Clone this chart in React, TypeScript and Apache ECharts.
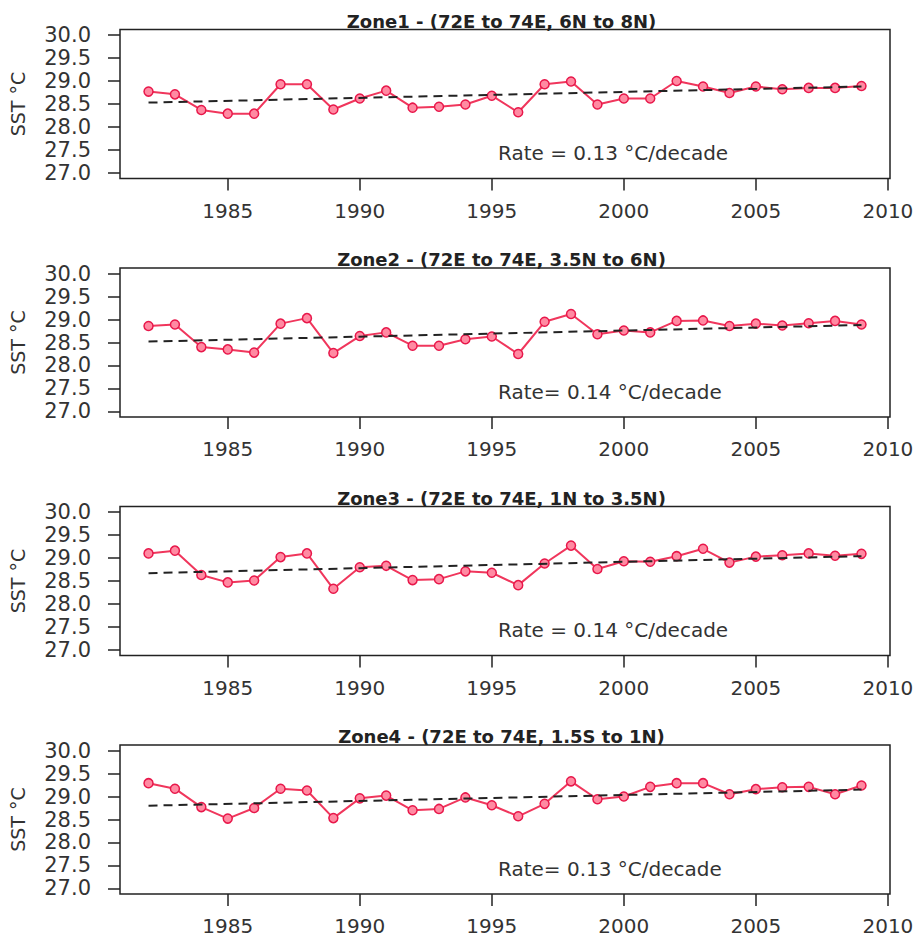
import React, { useEffect, useRef } from "react";
import * as echarts from "echarts";

const years = [1982, 1983, 1984, 1985, 1986, 1987, 1988, 1989, 1990, 1991, 1992, 1993, 1994, 1995, 1996, 1997, 1998, 1999, 2000, 2001, 2002, 2003, 2004, 2005, 2006, 2007, 2008, 2009];

const zone1 = [28.77, 28.71, 28.37, 28.29, 28.29, 28.93, 28.93, 28.38, 28.62, 28.79, 28.42, 28.44, 28.49, 28.68, 28.32, 28.93, 28.99, 28.49, 28.62, 28.62, 29.0, 28.88, 28.74, 28.88, 28.82, 28.85, 28.85, 28.89];
const zone2 = [28.86, 28.89, 28.4, 28.35, 28.28, 28.91, 29.03, 28.27, 28.64, 28.72, 28.43, 28.43, 28.57, 28.63, 28.25, 28.95, 29.12, 28.68, 28.76, 28.72, 28.97, 28.98, 28.86, 28.91, 28.87, 28.92, 28.97, 28.89];
const zone3 = [29.1, 29.16, 28.63, 28.47, 28.51, 29.02, 29.1, 28.33, 28.8, 28.83, 28.52, 28.54, 28.71, 28.68, 28.41, 28.88, 29.27, 28.76, 28.93, 28.92, 29.04, 29.2, 28.9, 29.03, 29.06, 29.1, 29.05, 29.09];
const zone4 = [29.29, 29.17, 28.77, 28.52, 28.75, 29.17, 29.13, 28.53, 28.96, 29.02, 28.7, 28.73, 28.98, 28.81, 28.57, 28.84, 29.33, 28.94, 29.0, 29.21, 29.29, 29.29, 29.05, 29.16, 29.2, 29.21, 29.05, 29.24];

const trendYears = [1982, 2009];
const trend1 = [28.53, 28.88];
const trend2 = [28.52, 28.88];
const trend3 = [28.67, 29.04];
const trend4 = [28.8, 29.15];

const titles = [
  "Zone1 - (72E to 74E, 6N to 8N)",
  "Zone2 - (72E to 74E, 3.5N to 6N)",
  "Zone3 - (72E to 74E, 1N to 3.5N)",
  "Zone4 - (72E to 74E, 1.5S to 1N)",
];
const rates = [
  "Rate = 0.13 °C/decade",
  "Rate= 0.14 °C/decade",
  "Rate = 0.14 °C/decade",
  "Rate= 0.13 °C/decade",
];
const yTicks = [27, 27.5, 28, 28.5, 29, 29.5, 30];
const xTicks = [1985, 1990, 1995, 2000, 2005, 2010];
const yAxisName = "SST °C";

const zones = [zone1, zone2, zone3, zone4];
const trends = [trend1, trend2, trend3, trend4];

export default function App() {
  const ref = useRef<HTMLDivElement>(null);

  useEffect(() => {
    if (!ref.current) return;
    const chart = echarts.init(ref.current, null, { renderer: "svg" });
    const font = "DejaVu Sans";
    const left = 113;
    const width = 777;
    const height = 149;
    const tops = [0, 1, 2, 3].map((i) => 29.5 + 238.5 * i);

    const grids = tops.map((t) => ({
      left,
      top: t,
      width,
      height,
      show: true,
      borderColor: "#222",
      borderWidth: 1.5,
      backgroundColor: "transparent",
      containLabel: false,
    }));

    const xAxes = tops.map((_, i) => ({
      type: "value",
      gridIndex: i,
      min: 1980.92,
      max: 2010.08,
      axisLine: { show: false, onZero: false },
      splitLine: { show: false },
      axisTick: {
        show: true,
        length: 12,
        lineStyle: { color: "#222", width: 1.5 },
        customValues: xTicks,
      },
      axisLabel: {
        show: true,
        customValues: xTicks,
        margin: 22,
        fontFamily: font,
        fontSize: 20,
        color: "#333",
        formatter: (v: number) => String(Math.round(v)),
      },
    }));

    const yAxes = tops.map((_, i) => ({
      type: "value",
      gridIndex: i,
      min: 26.88,
      max: 30.12,
      name: yAxisName,
      nameLocation: "middle",
      nameRotate: 90,
      nameGap: 93,
      nameTextStyle: { fontFamily: font, fontSize: 19, color: "#333" },
      axisLine: { show: false, onZero: false },
      splitLine: { show: false },
      axisTick: {
        show: true,
        length: 12,
        lineStyle: { color: "#222", width: 1.5 },
        customValues: yTicks,
      },
      axisLabel: {
        show: true,
        customValues: yTicks,
        margin: 29,
        fontFamily: font,
        fontSize: 21,
        color: "#333",
        formatter: (v: number) => v.toFixed(1),
      },
    }));

    const series: any[] = [];
    zones.forEach((z, i) => {
      series.push({
        type: "line",
        xAxisIndex: i,
        yAxisIndex: i,
        data: years.map((y, k) => [y, z[k]]),
        symbol: "circle",
        symbolSize: 9,
        lineStyle: { color: "#f0365c", width: 2 },
        itemStyle: { color: "#ff8aa2", borderColor: "#e8174a", borderWidth: 1.5 },
        z: 2,
      });
      series.push({
        type: "line",
        xAxisIndex: i,
        yAxisIndex: i,
        data: trendYears.map((y, k) => [y, trends[i][k]]),
        symbol: "none",
        lineStyle: { color: "#222", width: 2, type: [9, 6] },
        z: 3,
      });
    });

    const graphics: any[] = [];
    tops.forEach((t, i) => {
      graphics.push({
        type: "text",
        x: left + width / 2,
        y: t - 8.5,
        style: {
          text: titles[i],
          fontFamily: font,
          fontSize: 18,
          fontWeight: "bold",
          fill: "#222",
          align: "center",
          verticalAlign: "middle",
        },
        z: 10,
      });
      graphics.push({
        type: "text",
        x: 498,
        y: t + 123.5,
        style: {
          text: rates[i],
          fontFamily: font,
          fontSize: 20,
          fill: "#333",
          align: "left",
          verticalAlign: "middle",
        },
        z: 10,
      });
    });

    chart.setOption({
      animation: false,
      backgroundColor: "#ffffff",
      grid: grids,
      xAxis: xAxes,
      yAxis: yAxes,
      series,
      graphic: graphics,
    });

    return () => chart.dispose();
  }, []);

  return (
    <div
      ref={ref}
      style={{ position: "absolute", left: 0, top: 0, width: 917, height: 941, background: "#fff" }}
    />
  );
}
